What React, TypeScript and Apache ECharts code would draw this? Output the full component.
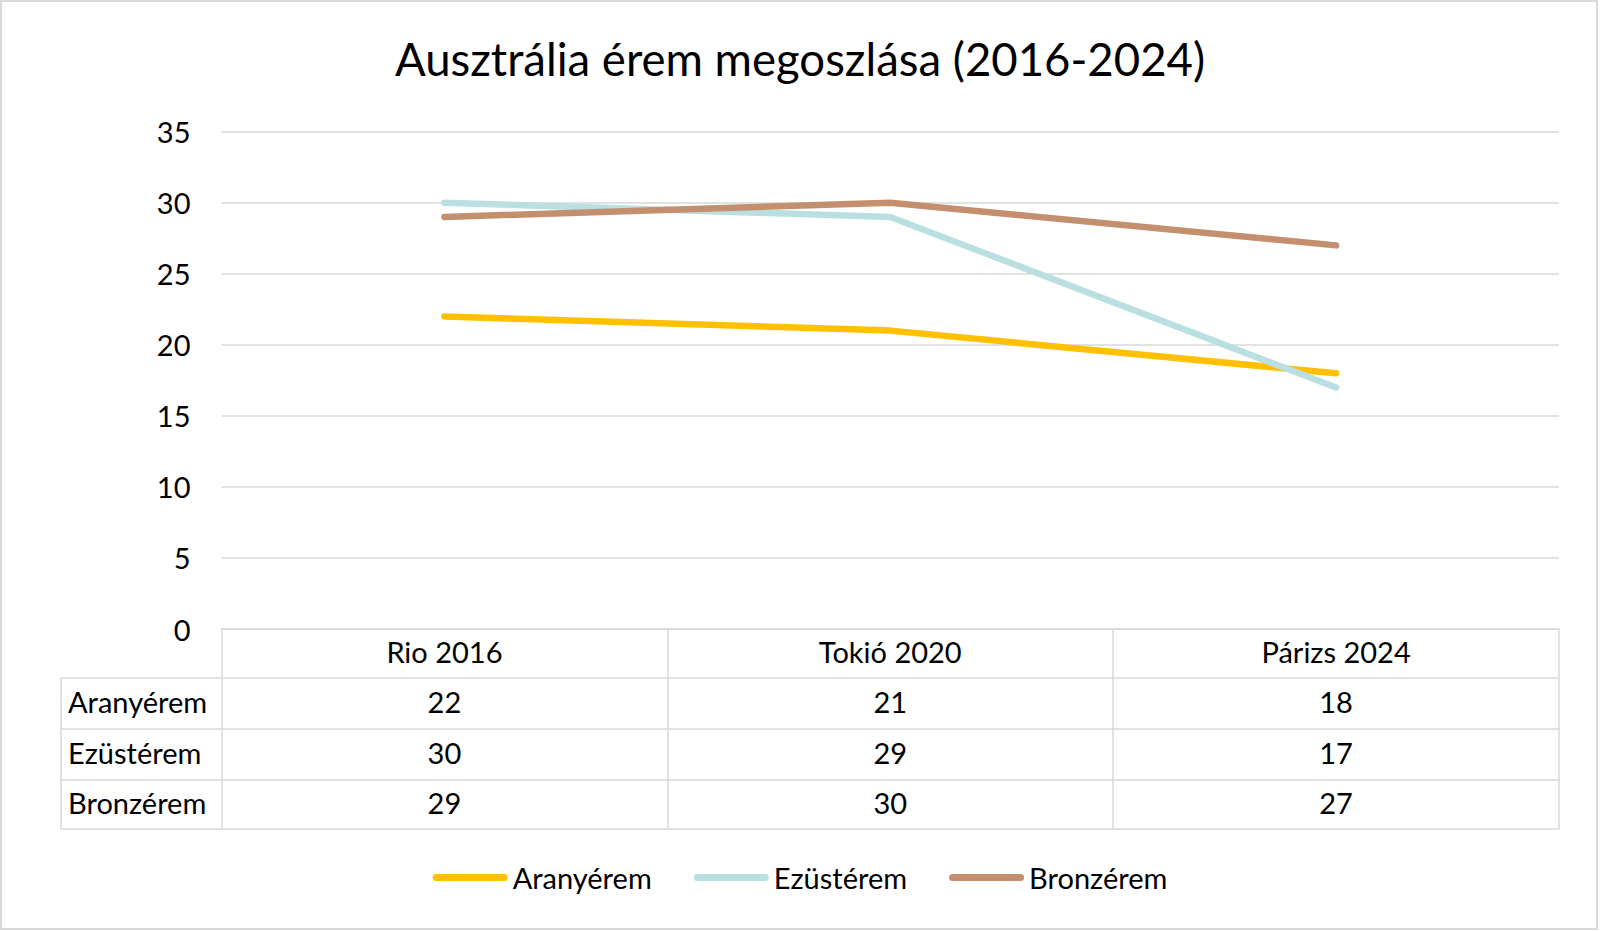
import React, { useEffect, useRef } from "react";
import * as echarts from "echarts";

const categories = ["Rio 2016", "Tokió 2020", "Párizs 2024"];
const seriesNames = ["Aranyérem", "Ezüstérem", "Bronzérem"];
const goldValues = [22, 21, 18];
const silverValues = [30, 29, 17];
const bronzeValues = [29, 30, 27];
const seriesValues = [goldValues, silverValues, bronzeValues];
const seriesColors = ["#FFC000", "#BADFE0", "#C48F6F"];
const titleText = "Ausztrália érem megoszlása (2016-2024)";

const FONT = "Lato, 'Noto Sans', sans-serif";
const FS = 29;
const W = 1600;
const H = 931;
const GRID_LEFT = 221.5;
const GRID_RIGHT_X = 1559;
const GRID_TOP = 131.7;
const AXIS_Y = 629;
const ROW_LINES = [678, 729, 780, 829];
const TABLE_LEFT = 61;
const GRID_COLOR = "#D9D9D9";

export default function App() {
  const ref = useRef<HTMLDivElement>(null);

  useEffect(() => {
    if (!ref.current) return;
    const chart = echarts.init(ref.current, undefined, { renderer: "svg" });

    const rowCenters = [
      (AXIS_Y + ROW_LINES[0]) / 2 - 2,
      (ROW_LINES[0] + ROW_LINES[1]) / 2 - 2,
      (ROW_LINES[1] + ROW_LINES[2]) / 2 - 2,
      (ROW_LINES[2] + ROW_LINES[3]) / 2 - 2,
    ];
    const labelMargin = rowCenters[0] - AXIS_Y;

    const baseLabel = {
      fontSize: FS,
      color: "#000",
      fontFamily: FONT,
      verticalAlign: "middle",
      margin: labelMargin,
    };

    const tableAxes = seriesValues.map((vals, k) => ({
      type: "category",
      data: categories,
      boundaryGap: true,
      position: "bottom",
      offset: rowCenters[k + 1] - rowCenters[0],
      axisLine: { show: false },
      axisTick: { show: false },
      splitLine: { show: false },
      axisLabel: {
        ...baseLabel,
        interval: 0,
        formatter: (_v: string, i: number) => String(vals[i]),
      },
    }));

    const graphics: any[] = [
      {
        type: "rect",
        shape: { x: 1, y: 1, width: W - 4, height: H - 3 },
        style: { fill: "none", stroke: GRID_COLOR, lineWidth: 2 },
        silent: true,
      },
    ];
    ROW_LINES.forEach((y) => {
      graphics.push({
        type: "line",
        shape: { x1: TABLE_LEFT, y1: y, x2: GRID_RIGHT_X, y2: y },
        style: { stroke: GRID_COLOR, lineWidth: 1.5 },
        silent: true,
      });
    });
    graphics.push({
      type: "line",
      shape: { x1: TABLE_LEFT, y1: ROW_LINES[0], x2: TABLE_LEFT, y2: ROW_LINES[3] },
      style: { stroke: GRID_COLOR, lineWidth: 1.5 },
      silent: true,
    });
    seriesNames.forEach((name, k) => {
      graphics.push({
        type: "text",
        x: 68,
        y: rowCenters[k + 1],
        style: {
          text: name,
          fontSize: FS,
          fontFamily: FONT,
          fill: "#000",
          textAlign: "left",
          textVerticalAlign: "middle",
        },
        silent: true,
      });
    });

    chart.setOption({
      animation: false,
      backgroundColor: "#fff",
      title: {
        text: titleText,
        left: "center",
        top: 30,
        textStyle: {
          fontSize: 45.5,
          fontWeight: "normal",
          color: "#000",
          fontFamily: FONT,
        },
      },
      legend: {
        data: seriesNames,
        left: "center",
        top: 858,
        itemWidth: 75,
        itemHeight: 7,
        itemGap: 42,
        icon: "path://M3.5,0 H71.5 A3.5,3.5 0 0 1 71.5,7 H3.5 A3.5,3.5 0 0 1 3.5,0 Z",
        textStyle: { fontSize: FS, color: "#000", fontFamily: FONT },
      },
      grid: {
        left: GRID_LEFT,
        right: W - GRID_RIGHT_X,
        top: GRID_TOP,
        bottom: H - AXIS_Y,
        containLabel: false,
      },
      xAxis: [
        {
          type: "category",
          data: categories,
          boundaryGap: true,
          axisLine: { show: true, lineStyle: { color: GRID_COLOR, width: 1.5 } },
          axisTick: {
            show: true,
            interval: 0,
            length: ROW_LINES[3] - AXIS_Y,
            lineStyle: { color: GRID_COLOR, width: 1.5 },
          },
          splitLine: { show: false },
          axisLabel: { ...baseLabel, interval: 0 },
        },
        ...tableAxes,
      ],
      yAxis: {
        type: "value",
        min: 0,
        max: 35,
        interval: 5,
        axisLine: { show: false },
        axisTick: { show: false },
        splitLine: { show: true, lineStyle: { color: GRID_COLOR, width: 1.5 } },
        axisLabel: { fontSize: FS, color: "#000", fontFamily: FONT, margin: 31 },
      },
      series: seriesNames.map((name, k) => ({
        name,
        type: "line",
        xAxisIndex: 0,
        data: seriesValues[k],
        symbol: "none",
        showSymbol: false,
        color: seriesColors[k],
        lineStyle: { color: seriesColors[k], width: 6.5, cap: "round", join: "round" },
        itemStyle: { color: seriesColors[k] },
      })),
      graphic: graphics,
    });

    return () => chart.dispose();
  }, []);

  return (
    <div
      ref={ref}
      style={{ position: "fixed", left: 0, top: 0, width: W, height: H, background: "#fff" }}
    />
  );
}
